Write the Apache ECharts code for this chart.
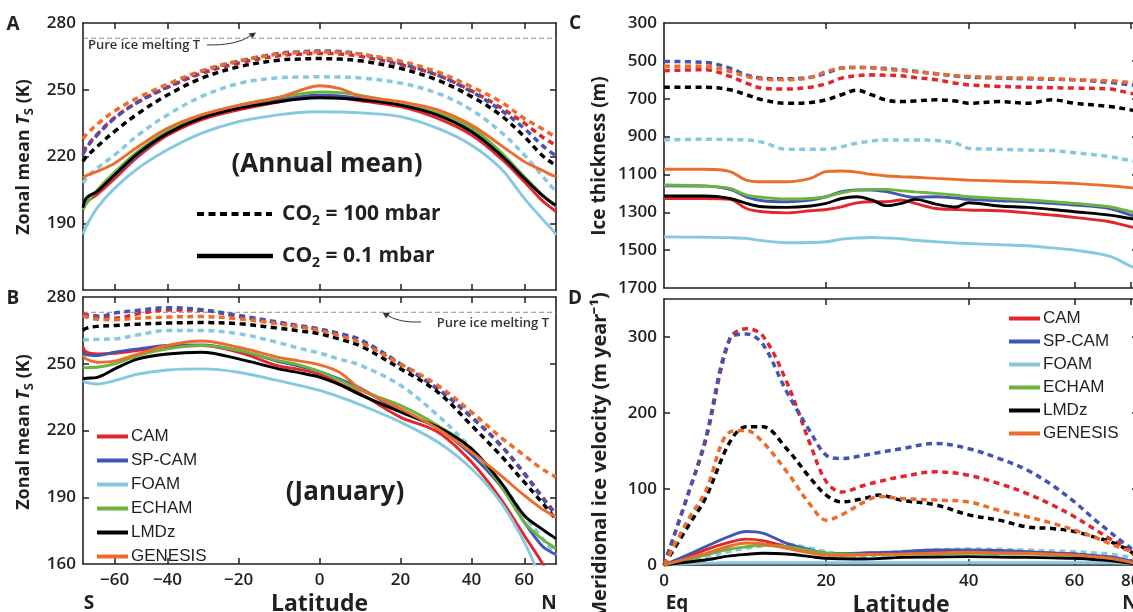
<!DOCTYPE html>
<html>
<head>
<meta charset="utf-8">
<script src="https://cdn.jsdelivr.net/npm/echarts@6/dist/echarts.min.js"></script>
<style>
html,body{margin:0;padding:0;background:#fff;}
#chart{width:1133px;height:612px;}
</style>
</head>
<body>
<div id="chart"></div>
<script>
// ---------------- DATA ----------------
const MODELS = ['CAM','SP-CAM','FOAM','ECHAM','LMDz','GENESIS'];
const COLORS = {'CAM':'#e3262b','SP-CAM':'#4455b0','FOAM':'#86c8e0','ECHAM':'#6cb33f','LMDz':'#000000','GENESIS':'#ec6c2b'};

// Panels A & B: latitude (deg)
const LAT_AB = [-90,-80,-70,-60,-50,-40,-30,-20,-10,-5,0,5,10,20,30,40,50,60,70,80,90];

// A: annual mean surface temperature (K), CO2 = 0.1 mbar (solid)
const A_CAM     = [196.5,199.5,203,210,220,229.5,236.5,241,244.5,246,247,246.5,245,242.4,237.1,229.6,219.2,208.7,200.4,196.5,195.2];
const A_SPCAM   = [198,201,204.5,211.5,221,230.5,237.5,242,245.5,246.8,247.5,247.2,246,243.3,238.8,231.5,221,210.5,203,199,197.5];
const A_FOAM    = [185,189,196.9,205.8,214.8,223,230.4,235.7,238.7,239.8,240.1,240,239.6,237.9,232.6,225.1,214.7,201.2,192.2,187,184.7];
const A_ECHAM   = [196,199,205,213,222.5,231.5,238.5,243,246.5,248,249,248.7,247.5,244,239.5,232.9,222,211,203,199,197.5];
const A_LMDZ    = [197,201.5,204.3,211.8,221.5,230.4,237.2,241.6,244.6,245.8,246.4,246.2,245.5,243.1,238.6,231.1,220.7,210.2,202.7,199,198.2];
const A_GENESIS = [210.3,211.5,213.3,217,224.5,232.7,238.7,243,246.5,249.5,251.8,250.5,247,244.6,240.9,234.1,225.1,217.7,213.9,211.5,211];
// A: CO2 = 100 mbar (dashed)
const A_CAM_D     = [222,224.5,230,237.5,244.5,251,257.3,262,265.3,266,266.3,266.1,265,261.3,256.5,249.5,242,235,229,226,225];
const A_SPCAM_D   = [221,224,229.7,237.2,244.6,251.3,258,262.8,266.3,267.1,267.4,267.2,266,261.8,256.6,249.1,240.9,232.6,225.2,221.4,220.7];
const A_FOAM_D    = [208,210.5,214.8,220.7,229.7,238.7,246.9,252.8,255.4,255.7,255.8,255.7,255.3,253,248.4,240.9,231.1,220.7,211.7,206,204.2];
const A_LMDZ_D    = [217.8,220,224.5,231.3,239.4,247.6,255.1,260.3,263.3,263.8,264,263.8,263,259.6,254.3,246.9,238.6,228.9,220.7,217,216];
const A_GENESIS_D = [228,230,234.5,240.5,246.5,252.5,258.5,263,266,266.7,267,266.8,266,262.9,258,251.3,244.6,237.1,232.6,229.6,228.9];

// B: January surface temperature (K), CO2 = 0.1 mbar (solid)
const B_CAM     = [257.4,255.2,254.4,254.7,256,257.7,258.2,255.2,249,247.5,245.3,241,236.5,226,219.3,205.8,189.3,172.8,160.8,152,148];
const B_SPCAM   = [255.2,254,253.7,255.2,256.7,258.2,258.5,256,251,249,246.5,243,239,228.5,221,209,195,178.8,168.3,165,164.5];
const B_FOAM    = [242.4,241.5,240.9,242.4,245.4,247.2,247.7,246.2,242.4,240.3,238,235,231.5,223.8,214.8,202.8,187.8,169.8,152,140,135];
const B_ECHAM   = [248.4,248.2,248.4,249.9,253.7,256.7,258.2,256,251.4,249.5,246.5,242.5,238,231.3,222.3,211.8,195.3,178.8,171.3,168,166.8];
const B_LMDZ    = [243.2,243.5,243.9,247.7,252.2,254.4,255.2,252.2,247.7,246,244,240.5,236,228.3,221.5,211.8,196.8,181.8,175.8,172.5,171.3];
const B_GENESIS = [253.7,252,250.7,251.2,254.4,258.2,260.2,257.4,252.9,251.3,249.5,246,238.6,229.8,220.8,210.3,199.8,190.8,184.8,182,181];
// B: CO2 = 100 mbar (dashed)
const B_CAM_D     = [272.5,272,271.5,270.5,272.5,274.2,274,271.2,268.3,266.8,265.4,263.2,260.5,249.6,238.6,226,213.5,200.8,190.5,184.5,182.5];
const B_SPCAM_D   = [271.7,271.5,271,272.8,274,275.2,274.3,271.7,268.7,267.2,265.7,263.5,260.8,250,238.8,226,213.3,200.5,190,184,182];
const B_FOAM_D    = [260.5,260.8,261,261.2,263,265,265,263.5,259.5,257,254.8,252,249.3,240.3,226.8,211.8,196.8,181.8,172,166,164];
const B_LMDZ_D    = [265,266,266.8,267.2,267.8,268.3,268.5,268,266,264.8,263.5,261,258,247.8,237.3,222.3,208.8,196.8,187.8,182,180.3];
const B_GENESIS_D = [271.7,271,270,269.8,270.5,271,271.2,270.2,268,266.5,265,262.5,259.5,250,240.3,228.3,217,208.8,202.8,200,199];

const MELT_T = 273.15;

// Panel C: ice thickness (m)
const LAT_C = [0,5,8,10,12,15,18,20,22,24,26,28,30,32,35,38,40,45,50,55,60,70,80,90];
const C_CAM     = [1227,1227,1232,1280,1297,1303,1292,1285,1271,1250,1244,1244,1235,1253,1280,1285,1288,1292,1303,1315,1327,1350,1377,1382];
const C_SPCAM   = [1160,1162,1179,1218,1239,1244,1235,1218,1191,1182,1182,1191,1209,1221,1218,1225,1232,1239,1244,1253,1262,1280,1315,1320];
const C_FOAM    = [1430,1432,1434,1438,1450,1461,1460,1456,1442,1436,1433,1436,1440,1448,1456,1462,1465,1471,1477,1488,1500,1532,1585,1595];
const C_ECHAM   = [1156,1161,1174,1209,1221,1230,1227,1218,1197,1183,1179,1179,1186,1192,1200,1210,1218,1227,1235,1244,1253,1271,1297,1300];
const C_LMDZ    = [1214,1214,1227,1253,1271,1274,1267,1253,1227,1218,1235,1265,1253,1232,1257,1272,1250,1267,1274,1285,1297,1315,1333,1337];
const C_GENESIS = [1073,1073,1085,1130,1139,1139,1121,1085,1082,1088,1100,1108,1112,1115,1121,1126,1130,1135,1139,1143,1147,1160,1170,1173];
const C_CAM_D     = [552,547,582,618,644,649,639,621,591,578,574,576,579,588,600,618,627,635,639,642,644,649,671,675];
const C_SPCAM_D   = [503,508,538,574,591,595,586,565,538,535,536,541,547,555,568,580,586,591,595,597,600,614,627,630];
const C_FOAM_D    = [918,914,916,918,930,967,967,967,953,935,923,918,918,918,921,935,962,967,971,974,985,1006,1027,1033];
const C_LMDZ_D    = [639,639,653,679,706,724,720,706,679,655,680,708,715,712,706,712,724,715,724,706,724,741,759,768];
const C_GENESIS_D = [529,529,556,582,596,600,588,556,538,535,536,545,551,558,568,578,582,588,591,595,600,605,614,616];

// Panel D: meridional ice velocity (m/yr)
const LAT_D = [0,3,5,8,10,12,15,18,20,22,25,27,30,35,40,45,50,55,60,65,70,75,80,90];
const D_CAM     = [0,11,20,30,34,32,24,18,15.4,15,15.5,16,16,17.5,18.4,17.8,17,15.8,14.5,12,10,7,4.4,1];
const D_SPCAM   = [0,14,24,38,44,42,28.5,20,15.4,15,16,16.5,17.5,19.7,19.7,19,17.5,15.4,14.5,12.5,11,8,5,1];
const D_FOAM    = [0,1.5,2.5,3,3,3,3,3,3,3,3,3,3,3,3,3,3,3,3,3,2.8,2.5,2,1];
const D_ECHAM   = [0,7,13,21,24,26,24,19,15.4,14.5,14,14,14,14.7,15.4,15,14.5,13.6,12.7,10.5,8.3,6,3.5,1];
const D_LMDZ    = [0,4,6.6,12,14,15.4,14.5,11,8.8,8.2,7.9,8.5,10,10.5,11,10.5,10,9.4,8.8,7.3,5.7,4,2.2,0.5];
const D_GENESIS = [0,9,15,25,29,28,22,16,13,12.5,13.5,14,14.5,15.6,16.7,16,15.4,14.2,13,11,8.8,6,3.5,1];
const D_CAM_D     = [0,96,162,298,311,302,241,158,110,96,105,110,116,122.6,118,107,94,79,63.5,48,35,26,17.5,8];
const D_SPCAM_D   = [0,96,165,298,304,291,228,175,144.5,140,144.5,148,153,160,153,140,125,105,83,61,44,31,22,10];
const D_FOAM_D    = [0,4,9,18,22,25,27,22,17.5,14,11,13,17.5,19.7,21,20.6,19.7,18.5,17.5,16,14.5,12,10,4];
const D_LMDZ_D    = [0,52.5,87.6,162,182,182,153,114,92,83,87.6,92,85.4,79,66,59,50,48,44,37,31,24,17.5,8];
const D_GENESIS_D = [0,61,96,175,177,162,123,79,59,66,83,90,87.6,85.4,83,72,63.5,55,46,37,28.5,22,17.5,8];

// Tick labels
const TICKS_AB_X = [-60,-40,-20,0,20,40,60];
const TICKS_CD_X = [0,20,40,60,80];
const TICKS_T = [160,190,220,250,280];
const TICKS_H = [300,500,700,900,1100,1300,1500,1700];
const TICKS_V = [0,100,200,300];

// ---------------- HELPERS ----------------
const sinLat = d => Math.sin(d * Math.PI / 180);
const latOf = v => Math.round(Math.asin(Math.max(-1, Math.min(1, v))) * 180 / Math.PI);
const fmtLat = v => { const d = latOf(v); return d < 0 ? '\u2212' + (-d) : String(d); };

const INK = '#231f20';
const FONT = 'Open Sans';
const lblStyle = {fontFamily: FONT, fontWeight: 600, fontSize: 17, color: INK};
const axLine = {show: true, onZero: false, lineStyle: {color: INK, width: 1.6}};

function series(name, lats, vals, dashed, g) {
  const c = COLORS[name];
  return {
    type: 'line',
    name: dashed ? name + ' (100 mbar)' : name,
    xAxisIndex: 2 * g, yAxisIndex: 2 * g,
    data: lats.map((d, i) => [sinLat(d), vals[i]]),
    showSymbol: false, symbol: 'none',
    smooth: 0.35,
    clip: true,
    silent: true,
    color: c,
    itemStyle: {color: c},
    lineStyle: dashed ? {color: c, width: 3.5, type: [6, 4.5]} : {color: c, width: 2.9},
    z: dashed ? 2 : 3
  };
}

function xAxes(g, labels, tickDegs, min, max, showName) {
  const tv = tickDegs.map(sinLat);
  const bottom = {
    type: 'value', gridIndex: g, min: min, max: max, position: 'bottom',
    axisLine: axLine, splitLine: {show: false},
    axisTick: {show: true, inside: true, length: 6, customValues: tv, lineStyle: {color: INK, width: 1.5}},
    axisLabel: labels ? Object.assign({show: true, margin: 8, customValues: labels.map(sinLat), formatter: fmtLat}, lblStyle) : {show: false}
  };
  if (showName) {
    bottom.name = 'Latitude';
    bottom.nameLocation = 'middle';
    bottom.nameGap = 29;
    bottom.nameTextStyle = {fontFamily: FONT, fontWeight: 'bold', fontSize: 23, color: INK};
  }
  const top = {
    type: 'value', gridIndex: g, min: min, max: max, position: 'top',
    axisLine: axLine, splitLine: {show: false},
    axisTick: {show: true, inside: true, length: 6, customValues: tv, lineStyle: {color: INK, width: 1.5}},
    axisLabel: {show: false}
  };
  return [bottom, top];
}

function yAxes(g, min, max, labels, ticks, inverse) {
  const left = {
    type: 'value', gridIndex: g, min: min, max: max, inverse: !!inverse, position: 'left',
    axisLine: axLine, splitLine: {show: false},
    axisTick: {show: true, inside: true, length: 6, customValues: ticks, lineStyle: {color: INK, width: 1.5}},
    axisLabel: Object.assign({show: true, margin: 7, customValues: labels, formatter: v => String(v)}, lblStyle)
  };
  const right = {
    type: 'value', gridIndex: g, min: min, max: max, inverse: !!inverse, position: 'right',
    axisLine: axLine, splitLine: {show: false},
    axisTick: {show: true, inside: true, length: 6, customValues: ticks, lineStyle: {color: INK, width: 1.5}},
    axisLabel: {show: false}
  };
  return [left, right];
}

// ---------------- OPTION ----------------
const allSeries = [];
const panelA = {CAM: [A_CAM, A_CAM_D], 'SP-CAM': [A_SPCAM, A_SPCAM_D], FOAM: [A_FOAM, A_FOAM_D], ECHAM: [A_ECHAM, null], LMDz: [A_LMDZ, A_LMDZ_D], GENESIS: [A_GENESIS, A_GENESIS_D]};
const panelB = {CAM: [B_CAM, B_CAM_D], 'SP-CAM': [B_SPCAM, B_SPCAM_D], FOAM: [B_FOAM, B_FOAM_D], ECHAM: [B_ECHAM, null], LMDz: [B_LMDZ, B_LMDZ_D], GENESIS: [B_GENESIS, B_GENESIS_D]};
const panelC = {CAM: [C_CAM, C_CAM_D], 'SP-CAM': [C_SPCAM, C_SPCAM_D], FOAM: [C_FOAM, C_FOAM_D], ECHAM: [C_ECHAM, null], LMDz: [C_LMDZ, C_LMDZ_D], GENESIS: [C_GENESIS, C_GENESIS_D]};
const panelD = {CAM: [D_CAM, D_CAM_D], 'SP-CAM': [D_SPCAM, D_SPCAM_D], FOAM: [D_FOAM, D_FOAM_D], ECHAM: [D_ECHAM, null], LMDz: [D_LMDZ, D_LMDZ_D], GENESIS: [D_GENESIS, D_GENESIS_D]};
[[panelA, LAT_AB, 0], [panelB, LAT_AB, 1], [panelC, LAT_C, 2], [panelD, LAT_D, 3]].forEach(([p, lats, g]) => {
  MODELS.forEach(m => { if (p[m][1]) allSeries.push(series(m, lats, p[m][1], true, g)); });
  MODELS.forEach(m => { allSeries.push(series(m, lats, p[m][0], false, g)); });
});
// melting-point reference lines
[0, 1].forEach(g => {
  allSeries.push({
    type: 'line', name: 'melt', xAxisIndex: 2 * g, yAxisIndex: 2 * g,
    data: [[-1, MELT_T], [1, MELT_T]], showSymbol: false, silent: true, z: 1,
    lineStyle: {color: '#8a8a8a', width: 1.1, type: [5, 3]}
  });
});

const legendBase = {
  data: MODELS, orient: 'vertical', icon: 'rect', itemWidth: 31, itemHeight: 4,
  padding: 0, selectedMode: false,
  textStyle: {fontFamily: 'Liberation Sans', fontSize: 17, color: INK, lineHeight: 19, padding: [0, 0, 0, -2]}
};

const TXT = (x, y, text, size, extra) => ({
  type: 'text', x: x, y: y, silent: true,
  style: Object.assign({text: text, fontFamily: FONT, fontWeight: 'bold', fontSize: size, fill: INK,
    textAlign: 'center', textVerticalAlign: 'middle', align: 'center', verticalAlign: 'middle'}, extra || {})
});

const zonalTitle = (x, y) => ({
  type: 'text', x: x, y: y, rotation: Math.PI / 2, silent: true,
  style: {
    text: '{a|Zonal mean }{t|T}{s|S}{a| (K)}',
    textAlign: 'center', textVerticalAlign: 'middle', align: 'center', verticalAlign: 'middle',
    rich: {
      a: {fontFamily: FONT, fontWeight: 'bold', fontSize: 18, fill: INK, color: INK, lineHeight: 24},
      t: {fontFamily: FONT, fontWeight: 'bold', fontStyle: 'italic', fontSize: 18, fill: INK, color: INK, lineHeight: 24},
      s: {fontFamily: FONT, fontWeight: 'bold', fontSize: 13, fill: INK, color: INK, lineHeight: 13, verticalAlign: 'bottom'}
    }
  }
});

const co2Text = (x, y, rest) => ({
  type: 'text', x: x, y: y, silent: true,
  style: {
    text: '{a|CO}{s|2}{a|' + rest + '}',
    textAlign: 'left', textVerticalAlign: 'middle', align: 'left', verticalAlign: 'middle',
    rich: {
      a: {fontFamily: FONT, fontWeight: 'bold', fontSize: 21, fill: INK, color: INK, lineHeight: 28},
      s: {fontFamily: FONT, fontWeight: 'bold', fontSize: 14, fill: INK, color: INK, lineHeight: 14, verticalAlign: 'bottom'}
    }
  }
});

const graphics = [
  TXT(13, 25, 'A', 19), TXT(13, 299, 'B', 19), TXT(575, 24, 'C', 19), TXT(575, 299, 'D', 19),
  // pure ice melting T labels
  TXT(88, 45, 'Pure ice melting T', 13, {textAlign: 'left', align: 'left', fontWeight: 600, fill: '#333'}),
  {type: 'bezierCurve', silent: true, shape: {x1: 207, y1: 45, x2: 252, y2: 35, cpx1: 236, cpy1: 46}, style: {stroke: '#333', lineWidth: 1, fill: null}},
  {type: 'polygon', silent: true, shape: {points: [[256, 32.5], [252.6, 38.3], [248.6, 33.6]]}, style: {fill: '#333'}},
  TXT(549, 323, 'Pure ice melting T', 13, {textAlign: 'right', align: 'right', fontWeight: 600, fill: '#333'}),
  {type: 'bezierCurve', silent: true, shape: {x1: 421, y1: 322, x2: 387, y2: 315, cpx1: 399, cpy1: 323}, style: {stroke: '#333', lineWidth: 1, fill: null}},
  {type: 'polygon', silent: true, shape: {points: [[382.5, 312.5], [389.8, 313], [386.2, 318.4]]}, style: {fill: '#333'}},
  // panel annotations
  TXT(327, 165, '(Annual mean)', 26),
  TXT(345, 493, '(January)', 26),
  {type: 'line', silent: true, shape: {x1: 197, y1: 214, x2: 272, y2: 214}, style: {stroke: '#000', lineWidth: 4, lineDash: [7, 4.5]}},
  co2Text(282, 214, ' = 100 mbar'),
  {type: 'line', silent: true, shape: {x1: 197, y1: 256, x2: 273, y2: 256}, style: {stroke: '#000', lineWidth: 4.5}},
  co2Text(282, 256, ' = 0.1 mbar'),
  // axis titles
  zonalTitle(24, 157), zonalTitle(24, 432),
  {type: 'text', x: 600, y: 156, rotation: Math.PI / 2, silent: true,
   style: {text: 'Ice thickness (m)', fontFamily: FONT, fontWeight: 'bold', fontSize: 19, fill: INK,
     textAlign: 'center', textVerticalAlign: 'middle', align: 'center', verticalAlign: 'middle'}},
  {type: 'text', x: 600, y: 456, rotation: Math.PI / 2, silent: true,
   style: {text: 'Meridional ice velocity (m year\u207B\u00B9)', fontFamily: FONT, fontWeight: 'bold', fontSize: 20, fill: INK,
     textAlign: 'center', textVerticalAlign: 'middle', align: 'center', verticalAlign: 'middle'}},
  // S / N / Eq
  TXT(89, 604, 'S', 19), TXT(549, 604, 'N', 19), TXT(677, 604, 'Eq', 19), TXT(1130, 604, 'N', 19)
];

const xs = [].concat(
  xAxes(0, null, TICKS_AB_X, -1, 1, false),
  xAxes(1, TICKS_AB_X, TICKS_AB_X, -1, 1, true),
  xAxes(2, null, [20, 40, 60, 80], 0, 1, false),
  xAxes(3, TICKS_CD_X, [20, 40, 60, 80], 0, 1, true)
);
const ys = [].concat(
  yAxes(0, 160, 280, [190, 220, 250, 280], [190, 220, 250]),
  yAxes(1, 160, 280, TICKS_T, [190, 220, 250]),
  yAxes(2, 300, 1700, TICKS_H, [500, 700, 900, 1100, 1300, 1500], true),
  yAxes(3, 0, 350, TICKS_V, [100, 200, 300])
);

const option = {
  animation: false,
  backgroundColor: '#ffffff',
  grid: [
    {left: 83, top: 23, width: 473, height: 267, outerBoundsMode: 'none', containLabel: false},
    {left: 83, top: 297, width: 473, height: 267, outerBoundsMode: 'none', containLabel: false},
    {left: 664, top: 23, width: 474, height: 265, outerBoundsMode: 'none', containLabel: false},
    {left: 664, top: 299, width: 474, height: 266, outerBoundsMode: 'none', containLabel: false}
  ],
  xAxis: xs,
  yAxis: ys,
  legend: [
    Object.assign({}, legendBase, {left: 97, top: 427, itemGap: 5}),
    Object.assign({}, legendBase, {left: 1009, top: 309, itemGap: 4})
  ],
  graphic: {elements: graphics},
  series: allSeries
};

const chart = echarts.init(document.getElementById('chart'), null, {renderer: 'canvas'});
chart.setOption(option);
</script>
</body>
</html>
